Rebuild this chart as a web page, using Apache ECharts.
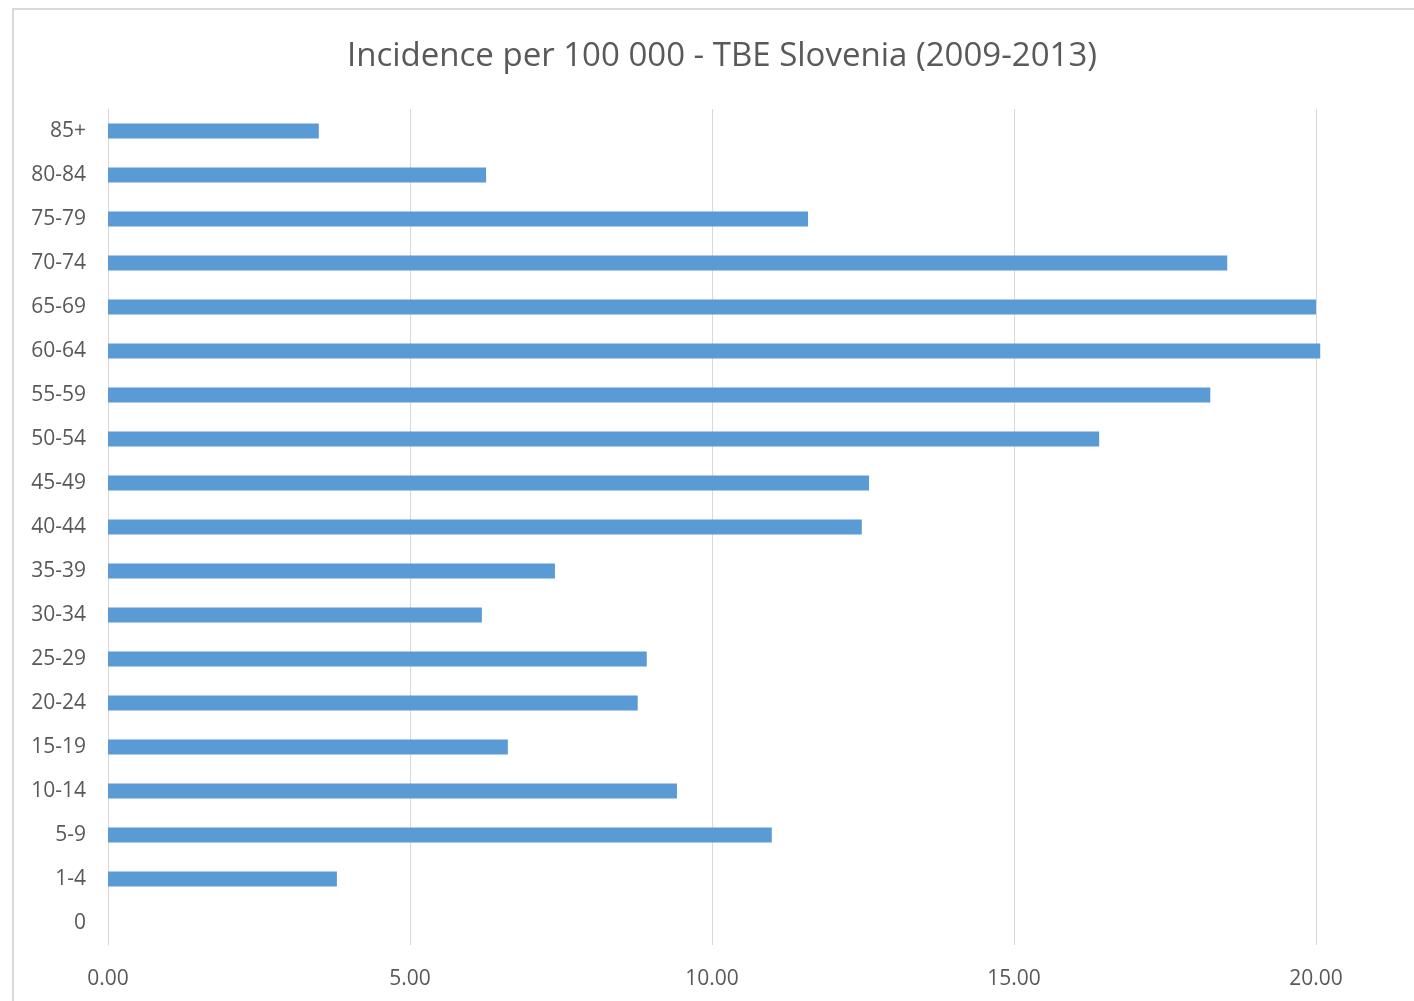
<!DOCTYPE html>
<html>
<head>
<meta charset="utf-8">
<title>Incidence per 100 000 - TBE Slovenia</title>
<script src="https://cdn.jsdelivr.net/npm/echarts@6/dist/echarts.min.js"></script>
<style>
  html, body { margin: 0; padding: 0; background: #fff; }
  #chart { width: 1414px; height: 1001px; }
</style>
</head>
<body>
<div id="chart"></div>
<script>
// age groups, bottom to top
const ageGroups = ['0', '1-4', '5-9', '10-14', '15-19', '20-24', '25-29', '30-34', '35-39',
  '40-44', '45-49', '50-54', '55-59', '60-64', '65-69', '70-74', '75-79', '80-84', '85+'];
const incidence = [0, 3.79, 10.99, 9.42, 6.62, 8.77, 8.92, 6.19, 7.40,
  12.48, 12.60, 16.41, 18.25, 20.07, 20.00, 18.53, 11.59, 6.26, 3.49];
const xTicks = { min: 0, max: 25, interval: 5 };

const textColor = '#595959';
const font = '"Open Sans", "Noto Sans", sans-serif';

const chart = echarts.init(document.getElementById('chart'), null, { renderer: 'canvas' });

chart.setOption({
  animation: false,
  backgroundColor: '#fff',
  title: {
    text: 'Incidence per 100 000 - TBE Slovenia (2009-2013)',
    left: 717,
    top: 35,
    textAlign: 'center',
    textStyle: { color: textColor, fontFamily: font, fontWeight: 'normal', fontSize: 33 }
  },
  // chart area frame (the picture is cropped on the right and bottom)
  graphic: [{
    type: 'rect',
    shape: { x: 13, y: 9, width: 1600, height: 1200 },
    style: { fill: 'none', stroke: '#d9d9d9', lineWidth: 2 },
    silent: true
  }],
  // plot area runs past the right edge, so the 25.00 gridline is cut off
  grid: { left: 108, top: 109, width: 1510, height: 836, outerBoundsMode: 'none', containLabel: false },
  xAxis: {
    type: 'value',
    min: xTicks.min,
    max: xTicks.max,
    interval: xTicks.interval,
    axisLine: { show: false },
    axisTick: { show: false },
    splitLine: { show: true, lineStyle: { color: '#d9d9d9', width: 1 } },
    axisLabel: {
      color: textColor, fontFamily: font, fontSize: 21, margin: 24,
      formatter: v => v.toFixed(2)
    }
  },
  yAxis: {
    type: 'category',
    data: ageGroups,
    axisLine: { show: true, lineStyle: { color: '#d9d9d9', width: 1 } },
    axisTick: { show: false },
    axisLabel: { color: textColor, fontFamily: font, fontSize: 21, margin: 22 }
  },
  series: [{
    type: 'bar',
    data: incidence,
    barWidth: 15,
    itemStyle: { color: '#5b9bd5' }
  }]
});
</script>
</body>
</html>
